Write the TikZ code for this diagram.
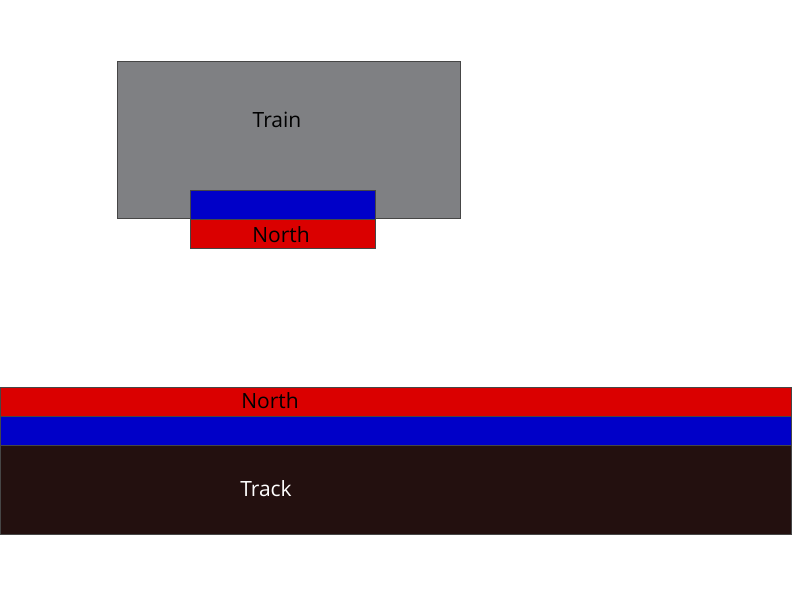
\documentclass[tikz,border=0pt]{standalone}
\usepackage{fontspec}
\setmainfont{Open Sans}
\usepackage{tikz}
\usetikzlibrary{positioning}
\definecolor{Cgray}{RGB}{127,128,131}
\definecolor{Cred}{RGB}{218,0,0}
\definecolor{Cblue}{RGB}{0,0,200}
\definecolor{Cdark}{RGB}{35,16,15}
\definecolor{Cbdr}{RGB}{70,70,70}
\tikzset{
  blk/.style n args={3}{draw=Cbdr, fill=#1, line width=0.6pt,
    minimum width=#2, minimum height=#3, inner sep=0pt, outer sep=0pt,
    anchor=north west},
  lbl/.style={font=\fontsize{21}{24}\selectfont, inner sep=0pt}
}
\begin{document}
\begin{tikzpicture}[x=1pt, y=-1pt]
\useasboundingbox (0,0) rectangle (792,612);

% train with its sensor
\node[blk={Cgray}{343pt}{157pt}] (train) at (117,61) {};
\node[blk={Cblue}{185pt}{29pt}] (sensorBlue) at (190,190) {};
\node[blk={Cred}{185pt}{29pt}] (sensorNorth) at (190,219) {};
\node[lbl] (trainTxt) at (277,120) {Train};
\node[lbl] (sensorTxt) at (281,235) {North};

% track
\node[blk={Cred}{791pt}{29pt}] (trackNorth) at (0.5,387) {};
\node[blk={Cblue}{791pt}{29pt}] (trackBlue) at (0.5,416) {};
\node[blk={Cdark}{791pt}{89pt}] (trackBody) at (0.5,445) {};
\node[lbl] (trackNorthTxt) at (270,401) {North};
\node[lbl, text=white] (trackTxt) at (266,489) {Track};

\end{tikzpicture}
\end{document}
